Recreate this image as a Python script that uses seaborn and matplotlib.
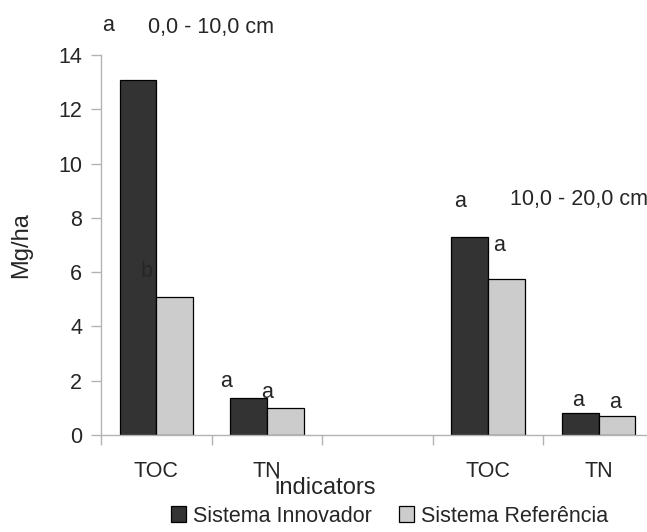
import matplotlib
matplotlib.use("Agg")
import matplotlib.pyplot as plt
import pandas as pd
import seaborn as sns

# Values (Mg/ha)
categories = ["TOC_1", "TN_1", "gap", "TOC_2", "TN_2"]
tick_labels = ["TOC", "TN", "", "TOC", "TN"]
bar_categories = ["TOC_1", "TN_1", "TOC_2", "TN_2"]
innovador = [13.07, 1.37, 7.31, 0.82]
referencia = [5.08, 0.98, 5.74, 0.69]
series = ["Sistema Innovador", "Sistema Referência"]
depth_labels = ["0,0 - 10,0 cm", "10,0 - 20,0 cm"]

# significance letters: (text, x in category units, y in Mg/ha)
letters = [
    ("a", -0.44, 15.1), ("b", -0.09, 6.04),
    ("a", 0.63, 1.99), ("a", 1.00, 1.55),
    ("a", 2.75, 8.62), ("a", 3.10, 7.00),
    ("a", 3.81, 1.29), ("a", 4.15, 1.18),
]
depth_pos = [(-0.075, 15.0), (3.198, 8.66)]

df = pd.DataFrame({
    "indicator": bar_categories * 2,
    "value": innovador + referencia,
    "system": [series[0]] * 4 + [series[1]] * 4,
})

FS = 15.5

sns.set_style("white")
plt.rcParams["font.family"] = ["Liberation Sans", "DejaVu Sans"]
plt.rcParams["font.size"] = FS

fig = plt.figure(figsize=(6.47, 5.32), dpi=100)
ax = fig.add_axes([0.1561, 0.1823, 0.8547, 0.7143])

sns.barplot(data=df, x="indicator", y="value", hue="system", order=categories,
            hue_order=series, palette=["#333333", "#cccccc"], width=0.663,
            edgecolor="black", linewidth=0.9, errorbar=None, ax=ax)

handles, labels = ax.get_legend_handles_labels()
ax.get_legend().remove()

ax.set_ylim(0, 14)
ax.set_xlim(-0.5, 4.5)
ax.set_yticks(range(0, 15, 2))

# ticks at category boundaries, labels at centers
ax.set_xticks([i - 0.5 for i in range(6)])
ax.set_xticklabels([])
ax.set_xticks(range(5), minor=True)
ax.set_xticklabels(tick_labels, minor=True)
ax.tick_params(axis="x", which="major", direction="out", length=7.5, color="#b3b3b3", width=1)
ax.tick_params(axis="x", which="minor", length=0, pad=18.5, labelsize=FS)
ax.tick_params(axis="y", direction="out", length=7.5, color="#b3b3b3", width=1, pad=6, labelsize=FS)
ax.tick_params(left=True, bottom=True)
ax.tick_params(axis="x", which="minor", bottom=False)

for side in ["top", "right"]:
    ax.spines[side].set_visible(False)
for side in ["left", "bottom"]:
    ax.spines[side].set_color("#b3b3b3")
    ax.spines[side].set_linewidth(1)

ax.set_xlabel("indicators", fontsize=17)
ax.xaxis.set_label_coords(0.405, -0.11)
ax.set_ylabel("Mg/ha", fontsize=17)
ax.yaxis.set_label_coords(-0.125, 0.5)

for txt, x, y in letters:
    ax.text(x, y, txt, ha="center", va="center", fontsize=FS, clip_on=False)
for txt, (x, y) in zip(depth_labels, depth_pos):
    ax.text(x, y, txt, ha="left", va="center", fontsize=FS, clip_on=False)

fig.legend(handles, labels, loc="center", bbox_to_anchor=(0.602, 0.03), ncol=2,
           frameon=False, fontsize=FS, handlelength=0.7, handleheight=0.7,
           handletextpad=0.3, columnspacing=1.3)

fig.savefig("out.png", dpi=100)
